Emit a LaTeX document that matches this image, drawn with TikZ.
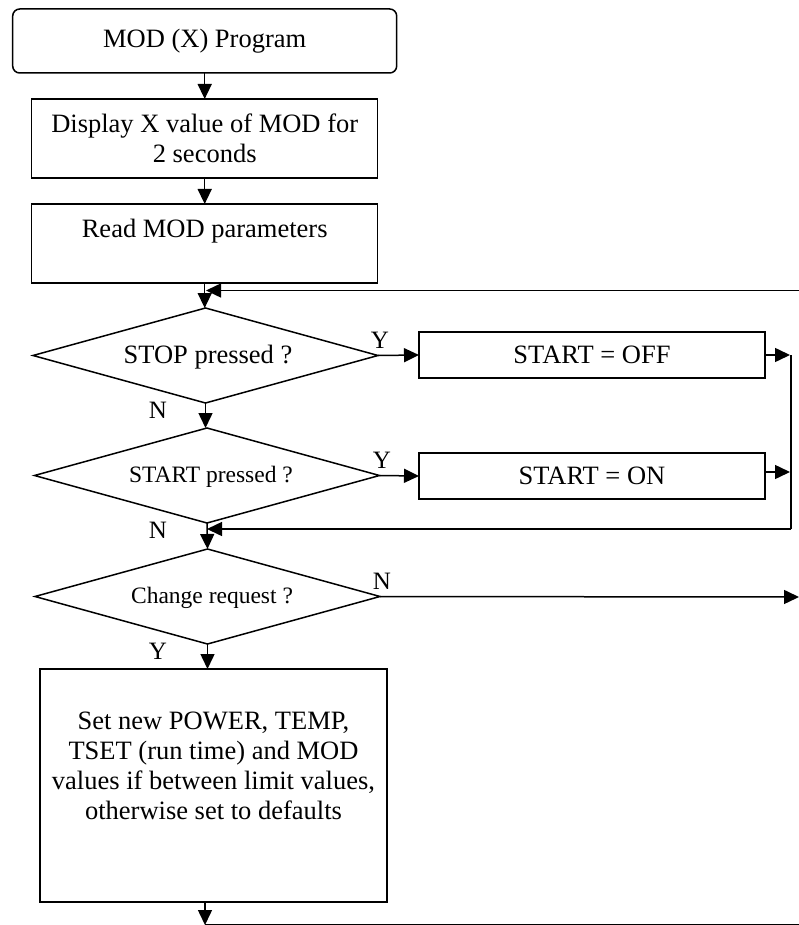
\documentclass[tikz,border=0pt]{standalone}
\usepackage{fontspec}
\setmainfont{Liberation Serif}
\usetikzlibrary{shapes.geometric,arrows.meta}
\begin{document}
\begin{tikzpicture}[x=1pt,y=-1pt,
  line width=1.5pt,
  font=\fontsize{26.5}{30}\selectfont,
  arr/.style={-{Triangle[length=15pt,width=14pt]}},
  proc/.style={draw,rectangle,inner sep=0pt,outer sep=0pt,align=center},
  dec/.style={draw,diamond,inner sep=0pt,outer sep=0pt,minimum width=345pt,minimum height=95pt,aspect=3.6},
  lab/.style={inner sep=0pt,font=\fontsize{25}{28}\selectfont},
  txt/.style={inner sep=0pt,align=center}]
\useasboundingbox (0,0) rectangle (799,925);
% nodes
\node[proc,rounded corners=7pt,minimum width=384pt,minimum height=64pt] (start) at (204.7,41) {MOD (X) Program};
\node[proc,minimum width=346pt,minimum height=79pt] (disp) at (204.7,138.5) {Display X value of MOD for\\2 seconds};
\node[proc,minimum width=346pt,minimum height=79pt] (read) at (204.7,243.5) {};
\node[txt] (readt) at (204.7,231) {Read MOD parameters};
\node[dec] (stop) at (205.5,355.5) {};
\node[txt] (stopt) at (208,357) {STOP pressed ?};
\node[dec] (startq) at (207,475.5) {};
\node[txt,font=\fontsize{23.5}{28}\selectfont] (startt) at (211,477) {START pressed ?};
\node[dec] (chg) at (207.5,596.5) {};
\node[txt,font=\fontsize{23.5}{28}\selectfont] (chgt) at (212,598) {Change request ?};
\node[proc,minimum width=346pt,minimum height=46pt] (off) at (592,355) {START = OFF};
\node[proc,minimum width=346pt,minimum height=46pt] (on) at (592,476) {START = ON};
\node[proc,minimum width=347pt,minimum height=233pt] (setv) at (213.5,785.5) {};
\node[txt] (setvt) at (213.5,766) {Set new POWER, TEMP,\\TSET (run time) and MOD\\values if between limit values,\\otherwise set to defaults};
% free ends
\coordinate (topin) at (799,290.5);
\coordinate (topend) at (206,290.5);
\coordinate (offend) at (790,355);
\coordinate (onend) at (790,472);
\coordinate (merge) at (791,529);
\coordinate (mergeend) at (207,529);
\coordinate (nout) at (799,597);
\coordinate (botend) at (205,925);
\coordinate (botright) at (799,923.5);
% connectors
\draw[arr] (start.south -| disp.north) -- (disp.north);
\draw[arr] (disp.south) -- (read.north);
\draw[arr] (read.south) -- (read.south |- stop.north);
\draw[arr] (topin) -- (topend);
\draw[arr] (stop.east) -- (off.west);
\draw[arr] (stop.south) -- (stop.south |- startq.north);
\draw[arr] (startq.east) -- (on.west);
\draw[arr] (off.east) -- (offend);
\draw[arr] (on.east |- onend) -- (onend);
\draw (791,355) -- (merge);
\draw[arr] (merge) -- (mergeend);
\draw[arr] (startq.south) -- (chg.north);
\draw[arr] (chg.east) -- (nout);
\draw[arr] (chg.south) -- (chg.south |- setv.north);
\draw[arr] (setv.south -| botend) -- (botend);
\draw[line width=1pt] (205,924) -- (799,924);
% labels
\node[lab] (y1) at (380,340) {Y};
\node[lab] (n1) at (158,410) {N};
\node[lab] (y2) at (382,460) {Y};
\node[lab] (n2) at (158,530) {N};
\node[lab] (n3) at (382,581) {N};
\node[lab] (y3) at (158,651) {Y};
\end{tikzpicture}
\end{document}
